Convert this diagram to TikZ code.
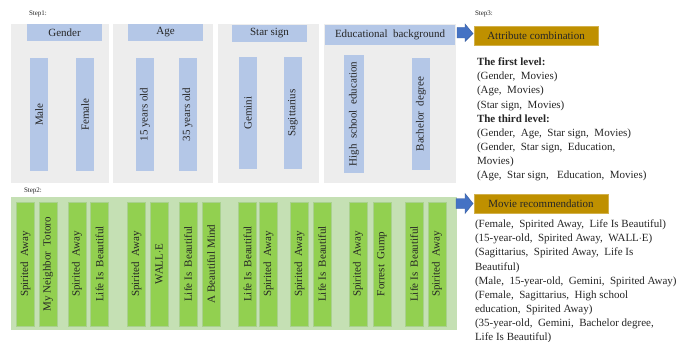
\documentclass[tikz,border=0pt]{standalone}
\usepackage{fontspec}
\setmainfont{Liberation Serif}
\usetikzlibrary{calc}
\definecolor{panelgray}{HTML}{EDEDED}
\definecolor{barblue}{HTML}{B4C7E7}
\definecolor{panelgreen}{HTML}{C5E0B4}
\definecolor{bargreen}{HTML}{92D050}
\definecolor{bargreenedge}{HTML}{A9D18E}
\definecolor{gold}{HTML}{BF9000}
\definecolor{arrowblue}{HTML}{4472C4}
\definecolor{txt}{HTML}{262626}
\begin{document}
\begin{tikzpicture}[x=1pt,y=-1pt,
  every node/.style={inner sep=0pt,outer sep=0pt,text=txt},
  panel/.style={fill=panelgray,minimum width=#1,minimum height=159},
  hdr/.style={fill=barblue,font=\fontsize{11}{13}\selectfont,minimum width=75,minimum height=17},
  bbar/.style={fill=barblue,minimum width=18,minimum height=113,font=\fontsize{11}{13}\selectfont},
  gbar/.style={fill=bargreen,draw=bargreenedge,line width=0.6pt,minimum width=18,minimum height=124,font=\fontsize{11}{13}\selectfont},
  goldbox/.style={fill=gold,draw=gold!70!white,line width=0.4pt,font=\fontsize{11}{13}\selectfont,minimum height=19},
  steplbl/.style={font=\fontsize{7}{8}\selectfont,anchor=west},
  listtxt/.style={anchor=north west,align=left,font=\fontsize{11}{14.1}\selectfont},
  blockarrow/.style={fill=arrowblue,draw=arrowblue!80!black,line width=0.4pt}
]
\useasboundingbox (0,0) rectangle (688,342);
\fill[white] (0,0) rectangle (688,342);

% Step 1
\node[steplbl] (s1) at (29,14) {Step1:};
\node[panel=98] (p1) at (60,103.5) {};
\node[panel=100] (p2) at (163,103.5) {};
\node[panel=101] (p3) at (268.5,103.5) {};
\node[panel=132] (p4) at (390,103.5) {};

\node[hdr] (hg) at (64.5,32.5) {Gender};
\node[hdr] (ha) at (165.5,32.5) {Age};
\node[hdr] (hs) at (269.5,33.5) {Star sign};
\node[hdr,minimum width=130,minimum height=20] (he) at (390,35) {Educational\ \ background};

\node[bbar] (male) at (39,114.5) {\rotatebox{90}{Male}};
\node[bbar] (female) at (85,114.5) {\rotatebox{90}{Female}};
\node[bbar] (y15) at (145,114.5) {\rotatebox{90}{15 years old}};
\node[bbar] (y35) at (187.5,114.5) {\rotatebox{90}{35 years old}};
\node[bbar,minimum height=112] (gem) at (248,113) {\rotatebox{90}{Gemini}};
\node[bbar,minimum height=112] (sag) at (293,113) {\rotatebox{90}{Sagittarius}};
\node[bbar,minimum width=20,minimum height=118] (hse) at (354,114) {\rotatebox{90}{High\ \ school\ \ education}};
\node[bbar,minimum height=112] (bach) at (421,114) {\rotatebox{90}{Bachelor\ \ degree}};

% Step 3
\node[steplbl] (s3) at (475,14) {Step3:};
\node[goldbox,minimum width=124] (attr) at (536,36) {Attribute combination};
\node[listtxt] (attrlist) at (477,58) {\textbf{The first level:}\\
(Gender,\ \ Movies)\\
(Age,\ \ Movies)\\
(Star sign,\ \ Movies)\\
\textbf{The third level:}\\
(Gender,\ \ Age,\ \ Star sign,\ \ Movies)\\
(Gender,\ \ Star sign,\ \ Education,\\
Movies)\\
(Age,\ \ Star sign,\ \ \ Education,\ \ Movies)};

\fill[blockarrow] ($(attr.west)+(-17,-8.5)$) coordinate (a1tail)
  -- ++(8,0) -- ++(0,-3.5) -- ($(attr.west)+(-1,-2.5)$) -- ($(attr.west)+(-9,5.5)$)
  -- ++(0,-3.5) -- ++(-8,0) -- cycle;

% Step 2
\node[steplbl] (s2) at (24,191) {Step2:};
\node[fill=panelgreen,minimum width=446,minimum height=133] (gp) at (234,263.5) {};
\foreach \x/\t [count=\i] in {25.5/Spirited\ \ Away, 48/My Neighbor\ \ Totoro, 77/Spirited\ \ Away, 99.5/Life Is\ \ Beautiful,
  136.5/Spirited\ \ Away, 159/WALL$\cdot$E, 188/Life Is\ \ Beautiful, 211/A Beautiful Mind,
  247.5/Life Is\ \ Beautiful, 268.5/Spirited\ \ Away, 299.5/Spirited\ \ Away, 322/Life Is\ \ Beautiful,
  358/Spirited\ \ Away, 382/Forrest\ \ Gump, 414/Life Is\ \ Beautiful, 437/Spirited\ \ Away}
  \node[gbar] (g\i) at (\x,264) {\rotatebox{90}{\t}};

\node[goldbox,minimum width=134] (movie) at (541,203.5) {Movie recommendation};
\node[listtxt] (movielist) at (475,220) {(Female,\ \ Spirited Away,\ \ Life Is Beautiful)\\
(15-year-old,\ \ Spirited Away,\ \ WALL$\cdot$E)\\
(Sagittarius,\ \ Spirited Away,\ \ Life Is\\
Beautiful)\\
(Male,\ \ 15-year-old,\ \ Gemini,\ \ Spirited Away)\\
(Female,\ \ Sagittarius,\ \ High school\\
education,\ \ Spirited Away)\\
(35-year-old,\ \ Gemini,\ \ Bachelor degree,\\
Life Is Beautiful)};

\fill[blockarrow] ($(movie.west)+(-18,-5)$) coordinate (a2tail)
  -- ++(9,0) -- ++(0,-5) -- ($(movie.west)+(-1,0)$) -- ($(movie.west)+(-9,10)$)
  -- ++(0,-5) -- ++(-9,0) -- cycle;
\end{tikzpicture}
\end{document}
